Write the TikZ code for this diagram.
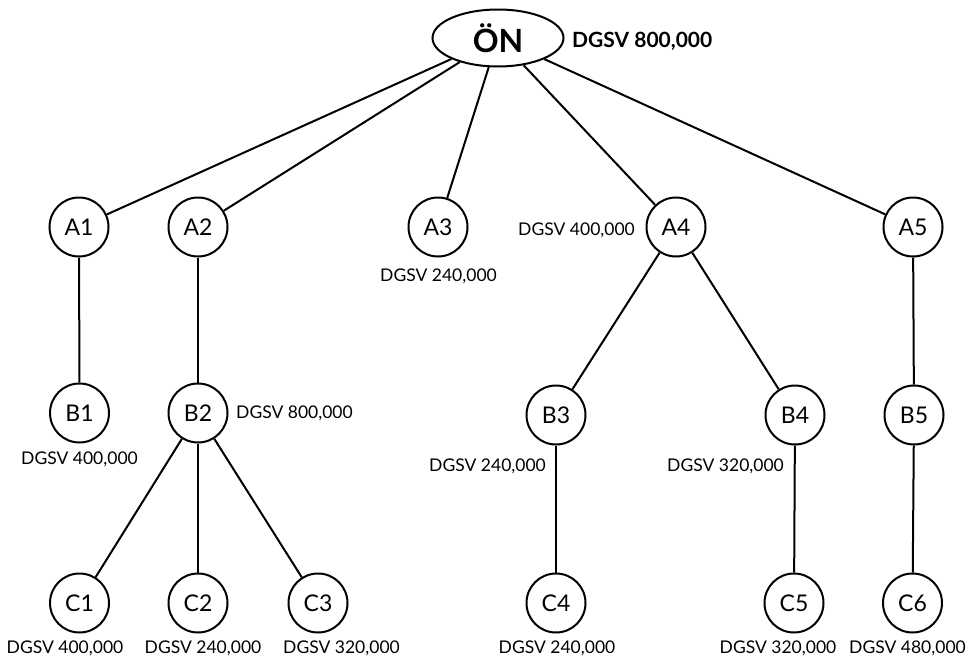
\documentclass[tikz,border=0pt]{standalone}
\usepackage{fontspec}
\setmainfont{Lato}
\usetikzlibrary{shapes.geometric}
\tikzset{
  circ/.style={circle, draw, line width=2pt, minimum size=59pt, inner sep=0pt,
    font=\fontsize{23}{26}\selectfont},
  root/.style={ellipse, draw, line width=2pt, minimum width=131pt, minimum height=57pt,
    inner sep=0pt, font=\fontsize{32}{35}\selectfont\bfseries},
  lbl/.style={inner sep=0pt, font=\fontsize{17.5}{20}\selectfont},
  blbl/.style={inner sep=0pt, font=\fontsize{21}{24}\selectfont\bfseries},
  edge/.style={line width=2pt}
}
\begin{document}
\begin{tikzpicture}[x=1pt,y=-1pt]
\useasboundingbox (0,0) rectangle (977,656);
\node[root] (ON) at (498,38) {ÖN};
\node[circ] (A1) at (79,227) {A1};
\node[circ] (A2) at (198,227) {A2};
\node[circ] (A3) at (438,227) {A3};
\node[circ] (A4) at (676,227) {A4};
\node[circ] (A5) at (913,227) {A5};
\node[circ] (B1) at (79.5,413) {B1};
\node[circ] (B2) at (198,413) {B2};
\node[circ] (B3) at (556,415) {B3};
\node[circ] (B4) at (795,415) {B4};
\node[circ] (B5) at (914,415) {B5};
\node[circ] (C1) at (79.5,603) {C1};
\node[circ] (C2) at (198,603) {C2};
\node[circ] (C3) at (318,603) {C3};
\node[circ] (C4) at (556,603) {C4};
\node[circ] (C5) at (794,603) {C5};
\node[circ] (C6) at (912.5,603) {C6};
\node[blbl, anchor=base west] (lON) at (572,47) {DGSV 800,000};
\node[lbl, anchor=base] (lA3) at (438.5,281) {DGSV 240,000};
\node[lbl, anchor=base east] (lA4) at (635,235) {DGSV 400,000};
\node[lbl, anchor=base] (lB1) at (79.5,464) {DGSV 400,000};
\node[lbl, anchor=base west] (lB2) at (236,418) {DGSV 800,000};
\node[lbl, anchor=base east] (lB3) at (546,471) {DGSV 240,000};
\node[lbl, anchor=base east] (lB4) at (784,471) {DGSV 320,000};
\node[lbl, anchor=base] (lC1) at (65,653) {DGSV 400,000};
\node[lbl, anchor=base] (lC2) at (203,653) {DGSV 240,000};
\node[lbl, anchor=base] (lC3) at (341.5,653) {DGSV 320,000};
\node[lbl, anchor=base] (lC4) at (557,653) {DGSV 240,000};
\node[lbl, anchor=base] (lC5) at (778,653) {DGSV 320,000};
\node[lbl, anchor=base] (lC6) at (907.5,653) {DGSV 480,000};
\foreach \a/\b in {ON/A1,ON/A2,ON/A3,ON/A4,ON/A5,A1/B1,A2/B2,A4/B3,A4/B4,A5/B5,
  B2/C1,B2/C2,B2/C3,B3/C4,B4/C5,B5/C6}
  \draw[edge] (\a) -- (\b);
\end{tikzpicture}
\end{document}
